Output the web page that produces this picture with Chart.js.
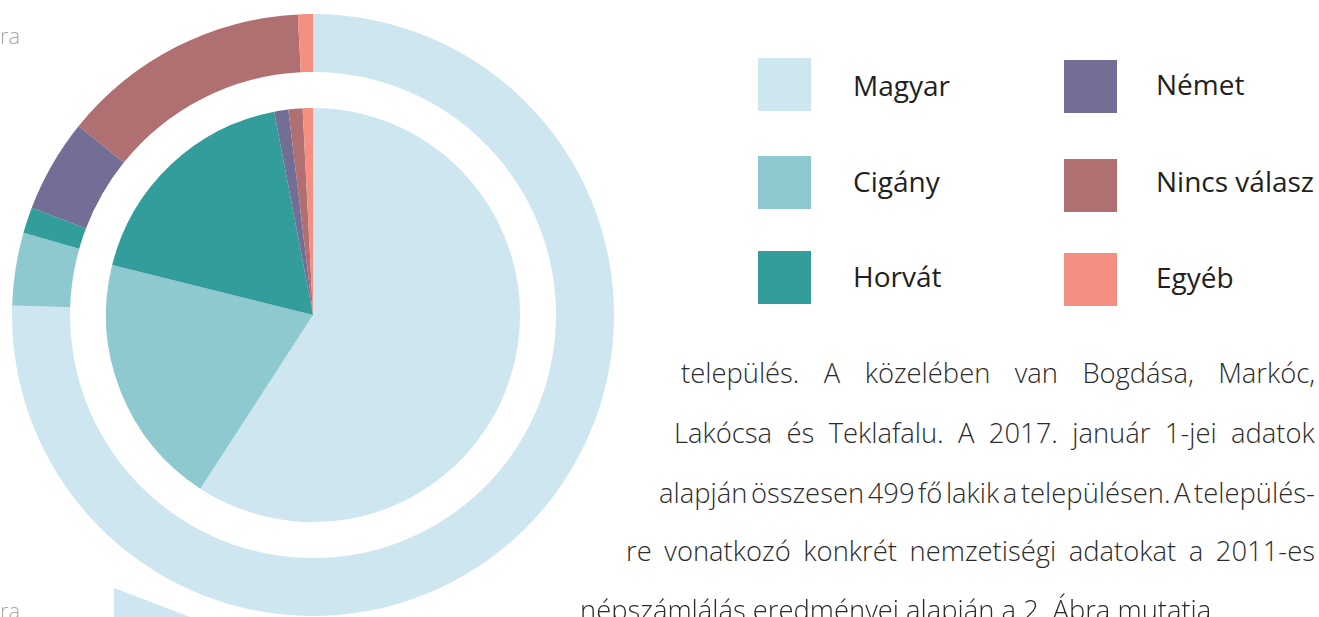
<!DOCTYPE html>
<html lang="hu">
<head>
<meta charset="utf-8">
<script src="https://cdn.jsdelivr.net/npm/chart.js@4/dist/chart.umd.min.js"></script>
<style>
  html, body { margin: 0; padding: 0; background: #ffffff; }
  body { width: 1319px; height: 617px; overflow: hidden; position: relative; font-family: "Open Sans", "Noto Sans", sans-serif; }
  #chartBox { position: absolute; left: 12px; top: 14px; width: 602px; height: 602px; }
  .deco { position: absolute; left: 0; top: 0; width: 1319px; height: 617px; }
  .sq { position: absolute; width: 53px; height: 53px; }
  .lab { position: absolute; font-size: 28px; font-weight: 400; line-height: 1; color: #231f20; white-space: pre; }
  .pl { position: absolute; font-size: 27px; font-weight: 300; line-height: 1; color: #2b2b2b; white-space: pre; transform-origin: 0 0; display: inline-block; }
  .cut { position: absolute; font-size: 22px; font-weight: 300; line-height: 1; color: #a7a9ac; white-space: pre; }
</style>
</head>
<body>
<div id="tri" class="deco"></div>
<div id="chartBox"><canvas id="c" width="602" height="602"></canvas></div>
<div id="legend"></div>
<div id="para"></div>
<div class="cut" style="left:0px; top:24px;">ra</div>
<div class="cut" style="left:0px; top:599px;">ra</div>
<script>
// ---- data ----
const categories = ['Magyar', 'Cigány', 'Horvát', 'Német', 'Nincs válasz', 'Egyéb'];
const outerValues = [75.5, 3.9, 1.4, 5.0, 13.4, 0.8];
const innerValues = [59.1, 19.7, 18.1, 1.1, 1.1, 0.8];
const colors = ['#cde6ef', '#8fc9d0', '#339d9c', '#736e96', '#b07071', '#f48f81'];

// decorative shard at bottom-left (part of the page layout)
const tri = document.getElementById('tri');
tri.style.background = colors[0];
tri.style.clipPath = 'polygon(114px 588px, 190px 617px, 114px 617px)';

// ---- chart ----
new Chart(document.getElementById('c'), {
  type: 'doughnut',
  data: {
    labels: categories,
    datasets: [
      { data: outerValues, backgroundColor: colors, borderWidth: 0, weight: 58 },
      { data: [1], backgroundColor: ['rgba(255,255,255,0)'], borderWidth: 0, weight: 36 },
      { data: innerValues, backgroundColor: colors, borderWidth: 0, weight: 207 }
    ]
  },
  options: {
    responsive: false,
    animation: false,
    cutout: 0,
    rotation: 0,
    hoverOffset: 0,
    layout: { padding: 0 },
    plugins: { legend: { display: false }, tooltip: { enabled: false } },
    events: []
  }
});

// ---- legend ----
const legendPos = [
  { sx: 758, sy: 58, lx: 853, lb: 96 },
  { sx: 758, sy: 156, lx: 853, lb: 192 },
  { sx: 758, sy: 251, lx: 853, lb: 287 },
  { sx: 1064, sy: 60, lx: 1156, lb: 95 },
  { sx: 1064, sy: 159, lx: 1156, lb: 192 },
  { sx: 1064, sy: 253, lx: 1156, lb: 288 }
];
const lg = document.getElementById('legend');
categories.forEach((name, i) => {
  const p = legendPos[i];
  const s = document.createElement('div');
  s.className = 'sq';
  s.style.left = p.sx + 'px'; s.style.top = p.sy + 'px';
  s.style.background = colors[i];
  lg.appendChild(s);
  const t = document.createElement('div');
  t.className = 'lab';
  t.textContent = name;
  t.style.left = p.lx + 'px';
  t.style.top = (p.lb - 0.888 * 28) + 'px';
  lg.appendChild(t);
});

// ---- paragraph ----
const FS = 27;
const lines = [
  { t: 'település. A közelében van Bogdása, Markóc,', l: 681, r: 1315, b: 383, j: true },
  { t: 'Lakócsa és Teklafalu. A 2017. január 1-jei adatok', l: 674, r: 1315, b: 443, j: true },
  { t: 'alapján összesen 499 fő lakik a településen. A település-', l: 659, r: 1315, b: 503, j: true },
  { t: 're vonatkozó konkrét nemzetiségi adatokat a 2011-es', l: 626, r: 1315, b: 561, j: true },
  { t: 'népszámlálás eredményei alapján a 2. Ábra mutatja', l: 580, r: 1214, b: 620, j: false }
];
const para = document.getElementById('para');
const els = lines.map(L => {
  const d = document.createElement('div');
  d.className = 'pl';
  d.textContent = L.t;
  d.style.left = L.l + 'px';
  d.style.top = (L.b - 0.888 * FS) + 'px';
  para.appendChild(d);
  return d;
});
function layoutPara() {
  els.forEach(e => { e.style.transform = 'none'; e.style.wordSpacing = '0px'; });
  const nat = els.map(e => e.offsetWidth);
  const last = lines.length - 1;
  let s = (lines[last].r - lines[last].l) / nat[last];
  // do not squeeze any justified line by more than ~3.5px per word gap
  lines.forEach((L, i) => {
    if (!L.j) return;
    const gaps = (L.t.match(/ /g) || []).length;
    s = Math.min(s, (L.r - L.l) / (nat[i] - 3.5 * gaps));
  });
  els.forEach((e, i) => {
    const L = lines[i];
    e.style.transform = 'scaleX(' + s + ')';
    if (L.j) {
      const gaps = (L.t.match(/ /g) || []).length;
      const extra = (L.r - L.l) / s - nat[i];
      if (gaps > 0) e.style.wordSpacing = (extra / gaps) + 'px';
    }
  });
}
layoutPara();
if (document.fonts && document.fonts.ready) { document.fonts.ready.then(layoutPara); }
</script>
</body>
</html>
